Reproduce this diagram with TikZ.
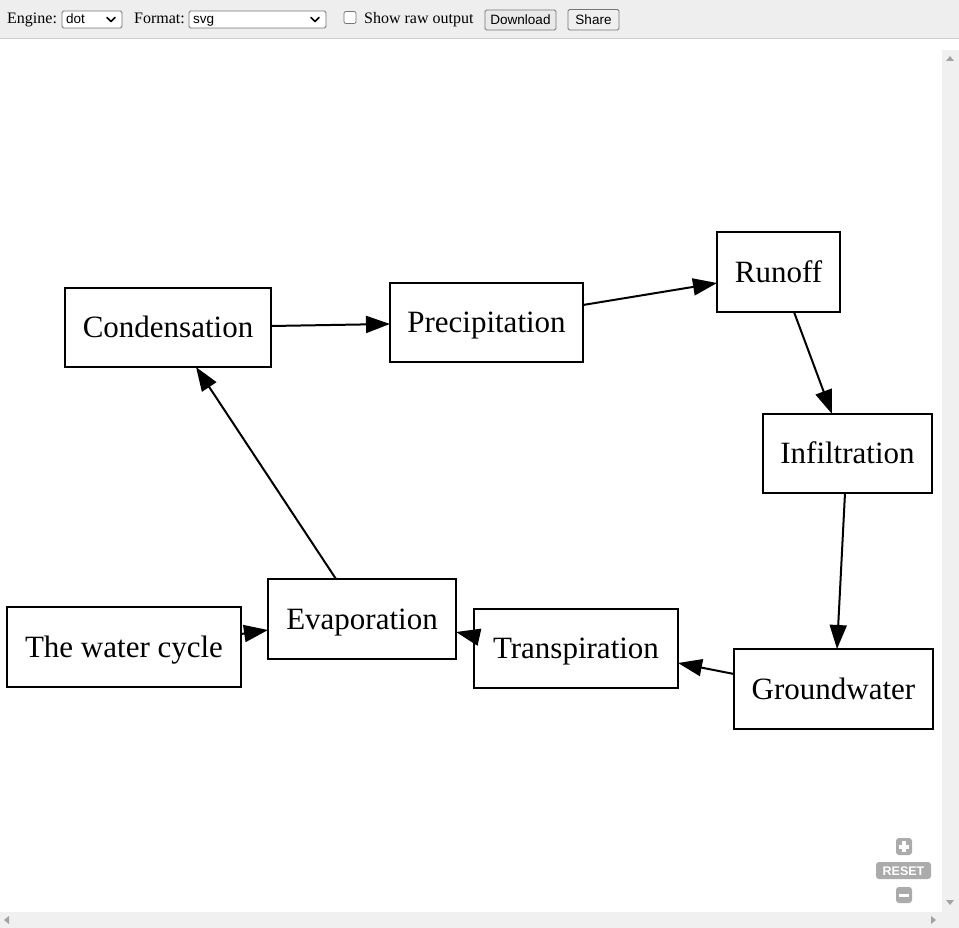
\documentclass[tikz,border=0pt]{standalone}
\usepackage{fontspec}
\setmainfont{Liberation Serif}
\newfontfamily\uisans{Liberation Sans}
\usetikzlibrary{arrows.meta,calc}
\definecolor{barbg}{HTML}{EEEEEE}
\definecolor{barline}{HTML}{CCCCCC}
\definecolor{scrollbg}{HTML}{F0F0F0}
\definecolor{scrollarrow}{HTML}{A3A3A3}
\definecolor{zoombtn}{HTML}{ABABAB}
\definecolor{selborder}{HTML}{767676}
\definecolor{btnbg}{HTML}{EFEFEF}
\definecolor{dlbg}{HTML}{E9E9E9}
\tikzset{
  box/.style={draw, line width=2pt, inner sep=0pt, outer sep=0pt,
    text height=20.5pt, text depth=0pt, font=\fontsize{31}{37}\selectfont},
  edge/.style={line width=2pt, -{Triangle[length=24pt,width=17pt]}},
  uitext/.style={inner sep=0pt, anchor=base west, font=\fontsize{16}{19}\selectfont},
  seltext/.style={inner sep=0pt, anchor=base west, font=\uisans\fontsize{13.5}{16}\selectfont},
  selbox/.style={draw=selborder, fill=white, line width=0.8pt, rounded corners=1.5pt},
  btn/.style={draw=selborder, fill=btnbg, line width=0.8pt, rounded corners=1.5pt},
  chev/.style={line width=1.6pt, line cap=round, line join=round},
  zbtn/.style={fill=zoombtn, rounded corners=3pt},
}
\begin{document}
\begin{tikzpicture}[x=1pt,y=-1pt]
\useasboundingbox (0,0) rectangle (959,928);
\fill[white] (0,0) rectangle (959,928);
% toolbar
\fill[barbg] (0,0) rectangle (959,38);
\draw[barline, line width=1.5pt] (0,38.5) -- (959,38.5);
\node[uitext] (englbl) at (7,24) {Engine:};
\draw[selbox] (62,11) rectangle (122,28);
\node[seltext] (engval) at (66,24) {dot};
\draw[chev] (107,17.5) -- (111,21.5) -- (115,17.5);
\node[uitext] (fmtlbl) at (134,24) {Format:};
\draw[selbox] (189,11) rectangle (326,28);
\node[seltext] (fmtval) at (193,24) {svg};
\draw[chev] (311,17.5) -- (315,21.5) -- (319,17.5);
\draw[selborder, fill=white, line width=0.8pt, rounded corners=2pt] (344,11.5) rectangle (356,23.5);
\node[uitext] (rawlbl) at (364,24) {Show raw output};
\draw[btn, fill=dlbg] (485,10) rectangle (556,30);
\node[seltext, anchor=base] (dlbtn) at (520.5,24.5) {Download};
\draw[btn] (568,9.5) rectangle (619,30);
\node[seltext, anchor=base] (sharebtn) at (593.5,24.5) {Share};
% scrollbars
\fill[scrollbg] (942,50) rectangle (959,928);
\fill[scrollbg] (0,912) rectangle (959,928);
\fill[scrollarrow] (946,61) -- (954,61) -- (950,56) -- cycle;
\fill[scrollarrow] (946,900) -- (954,900) -- (950,905) -- cycle;
\fill[scrollarrow] (9,916) -- (9,924) -- (4,920) -- cycle;
\fill[scrollarrow] (931,916) -- (931,924) -- (936,920) -- cycle;
% zoom controls
\fill[zbtn] (896,838) rectangle (912,855);
\fill[white] (899,845) rectangle (909,848.5);
\fill[white] (902.3,841.3) rectangle (905.7,852);
\fill[zbtn] (876,862) rectangle (931,879);
\node[inner sep=0pt, text=white, font=\uisans\bfseries\fontsize{12.5}{14}\selectfont] (reset) at (903.5,871) {RESET};
\fill[zbtn] (896,887) rectangle (912,903);
\fill[white] (899,893.5) rectangle (909,897);
% graph nodes
\node[box, minimum width=206pt, minimum height=79pt] (cond) at (168,327.5) {Condensation};
\node[box, minimum width=193pt, minimum height=79pt] (prec) at (486.5,322.5) {Precipitation};
\node[box, minimum width=123pt, minimum height=80pt] (runoff) at (778.5,272) {Runoff};
\node[box, minimum width=169pt, minimum height=79pt] (infil) at (847.5,453.5) {Infiltration};
\node[box, minimum width=199pt, minimum height=80pt] (gw) at (833.5,689) {Groundwater};
\node[box, minimum width=204pt, minimum height=79pt] (trans) at (576,648.5) {Transpiration};
\node[box, minimum width=188pt, minimum height=80pt] (evap) at (362,619) {Evaporation};
\node[box, minimum width=234pt, minimum height=80pt] (wc) at (124,647) {The water cycle};
% edges
\draw[edge] ($(wc.east)+(0,-13)$) -- ($(evap.west)+(0,11)$);
\draw[edge] ($(evap.north)+(-26,0)$) -- ($(cond.south)+(28,0)$);
\draw[edge] ($(cond.east)+(0,-1.5)$) -- ($(prec.west)+(0,1.5)$);
\draw[edge] ($(prec.east)+(0,-17.5)$) -- ($(runoff.west)+(0,11)$);
\draw[edge] ($(runoff.south)+(15.5,0)$) -- ($(infil.north)+(-15.5,0)$);
\draw[edge] ($(infil.south)+(-2.5,0)$) -- ($(gw.north)+(3.5,0)$);
\draw[edge] ($(gw.west)+(0,-15)$) -- ($(trans.east)+(0,14.5)$);
\draw[edge] ($(trans.west)+(0,-12.5)$) -- ($(evap.east)+(0,13)$);
\end{tikzpicture}
\end{document}
